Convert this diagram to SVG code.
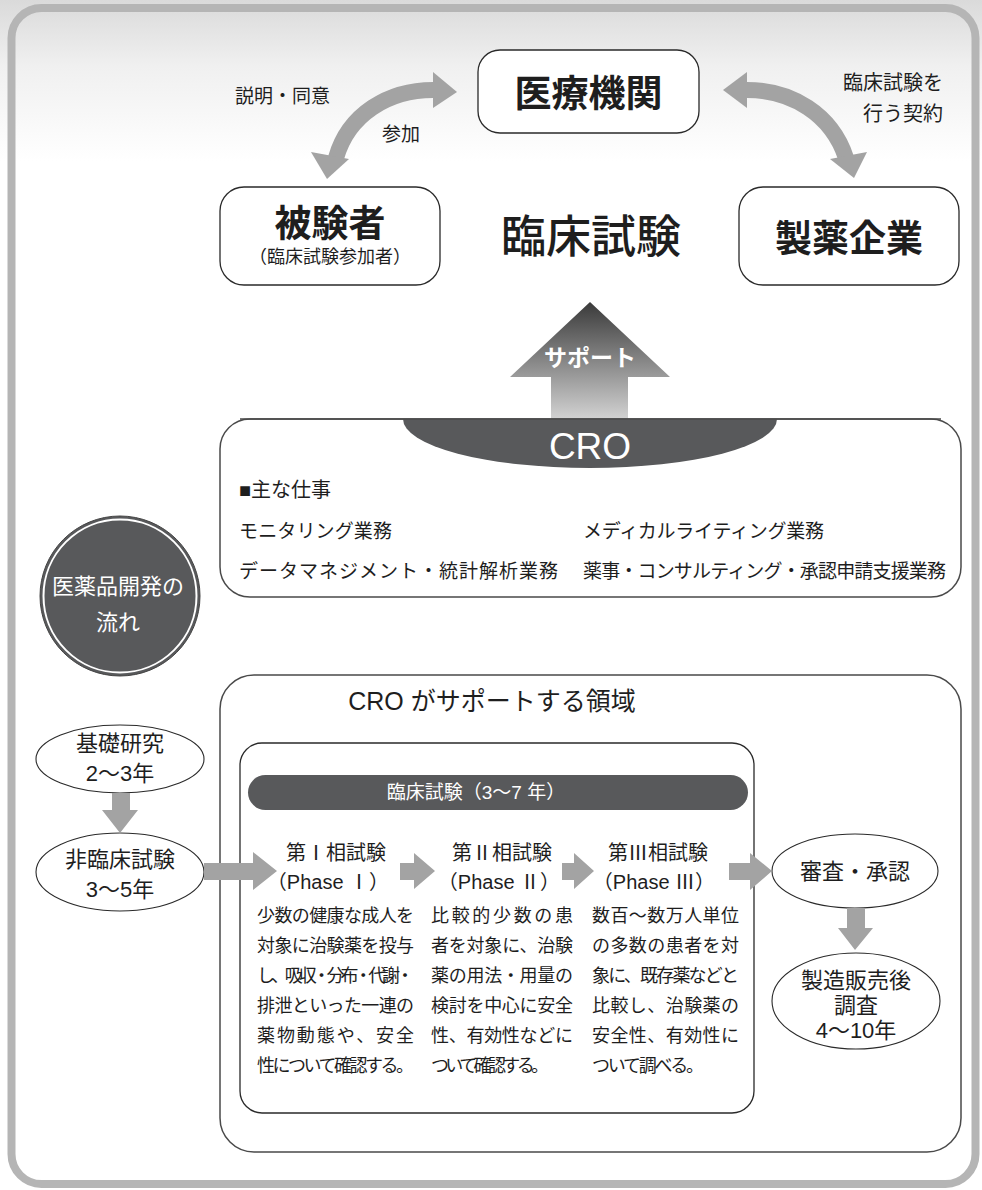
<svg xmlns="http://www.w3.org/2000/svg" width="982" height="1190" viewBox="0 0 982 1190">
<defs>
<linearGradient id="sky" x1="0" y1="0" x2="0" y2="190" gradientUnits="userSpaceOnUse">
<stop offset="0" stop-color="#dadada"/>
<stop offset="0.35" stop-color="#f0f0f0"/>
<stop offset="0.85" stop-color="#ffffff"/>
</linearGradient>
<linearGradient id="sup" x1="0" y1="302" x2="0" y2="419" gradientUnits="userSpaceOnUse">
<stop offset="0" stop-color="#3a3a3a"/>
<stop offset="1" stop-color="#d2d2d2"/>
</linearGradient>
<style>
text{font-family:"Liberation Sans","Noto Sans CJK JP",sans-serif;fill:#1e1e1e;dominant-baseline:central}
.c{text-anchor:middle}
.e{text-anchor:end}
.b{font-weight:bold}
.w{fill:#ffffff}
.node{fill:#ffffff;stroke:#2a2a2a;stroke-width:1.3}
.box{fill:#ffffff;stroke:#4a4a4a;stroke-width:1.5}
.ell{fill:#ffffff;stroke:#2a2a2a;stroke-width:1.1}
.arr{fill:#a3a3a3}
.curve{fill:none;stroke:#a3a3a3;stroke-width:16}
.dark{fill:#58595b}
.t18{font-size:18px}
.t19{font-size:19px}
.t20{font-size:20px}
.t22{font-size:22px}
</style>
</defs>

<rect x="0" y="0" width="982" height="1190" fill="#ffffff"/>
<rect x="0" y="0" width="982" height="190" fill="url(#sky)"/>
<rect id="frame" x="11.5" y="8" width="964" height="1176" rx="30" fill="none" stroke="#b5b5b5" stroke-width="8"/>

<g id="labels">
<text class="t19" x="235" y="96">説明・同意</text>
<text class="t19" x="382" y="134">参加</text>
<text class="t20 e" x="943" y="83">臨床試験を</text>
<text class="t20 e" x="943" y="114">行う契約</text>
</g>

<g id="iryo">
<rect class="node" x="478" y="50" width="221" height="83" rx="22"/>
<text class="c b" x="588.5" y="94" font-size="37">医療機関</text>
</g>

<g id="hikensha">
<rect class="node" x="220" y="187" width="220" height="98" rx="24"/>
<text class="c b" x="330" y="224" font-size="37">被験者</text>
<text class="c t18" x="330" y="257">（臨床試験参加者）</text>
</g>

<g id="rinsho">
<text class="c" x="591" y="237" font-size="45" font-weight="500">臨床試験</text>
</g>

<g id="seiyaku">
<rect class="node" x="739" y="187" width="220" height="98" rx="24"/>
<text class="c b" x="849" y="239" font-size="37">製薬企業</text>
</g>

<g id="support">
<polygon fill="url(#sup)" points="590,302 670,377 628,377 628,419 551,419 551,377 510,377"/>
<text class="c b w" x="590" y="358" font-size="23">サポート</text>
</g>

<g id="cro">
<rect class="box" x="220" y="419" width="741" height="178" rx="30"/>
<path class="dark" d="M403,419 A187,49 0 0 0 777,419 Z"/>
<line x1="240" y1="419" x2="941" y2="419" stroke="#4a4a4a" stroke-width="1.5"/>
<text class="c w" x="590" y="446" font-size="37">CRO</text>
<text class="t20" x="239" y="490">■主な仕事</text>
<text class="t19" x="239" y="531" textLength="153">モニタリング業務</text>
<text class="t19" x="583" y="531" textLength="241">メディカルライティング業務</text>
<text class="t19" x="239" y="571" textLength="319">データマネジメント・統計解析業務</text>
<text class="t19" x="583" y="571" textLength="363">薬事・コンサルティング・承認申請支援業務</text>
</g>

<g id="flow-title">
<circle cx="120" cy="596" r="80" fill="#58595b" stroke="#444" stroke-width="1"/>
<circle cx="120" cy="596" r="76.5" fill="none" stroke="#ffffff" stroke-width="2"/>
<text class="c w t22" x="118" y="586">医薬品開発の</text>
<text class="c w t22" x="118" y="622">流れ</text>
</g>

<g id="cro-area">
<rect class="box" x="220" y="675" width="741" height="477" rx="34"/>
<text class="c" x="492" y="701" font-size="25">CRO がサポートする領域</text>
</g>

<g id="clinical">
<rect class="node" x="240" y="743" width="514" height="370" rx="22"/>
<rect class="dark" x="248" y="775" width="500" height="35" rx="17.5"/>
<text class="c w t19" x="476" y="792">臨床試験（3～7 年）</text>
</g>

<g id="phase1">
<text class="c t20" x="336" y="853">第Ⅰ相試験</text>
<text class="c t20" x="328" y="882">（Phase Ⅰ）</text>
<text class="t18" x="257" y="916" textLength="157">少数の健康な成人を</text>
<text class="t18" x="257" y="946" textLength="157">対象に治験薬を投与</text>
<text class="t18" x="257" y="976" textLength="157">し、吸収・分布・代謝・</text>
<text class="t18" x="257" y="1006" textLength="157">排泄といった一連の</text>
<text class="t18" x="257" y="1036" textLength="157">薬物動態や、安全</text>
<text class="t18" x="257" y="1066" textLength="157">性について確認する。</text>
</g>

<g id="phase2">
<text class="c t20" x="502" y="853">第Ⅱ相試験</text>
<text class="c t20" x="499" y="882">（Phase Ⅱ）</text>
<text class="t18" x="431" y="916" textLength="142">比較的少数の患</text>
<text class="t18" x="431" y="946" textLength="142">者を対象に、治験</text>
<text class="t18" x="431" y="976" textLength="142">薬の用法・用量の</text>
<text class="t18" x="431" y="1006" textLength="142">検討を中心に安全</text>
<text class="t18" x="431" y="1036" textLength="142">性、有効性などに</text>
<text class="t18" x="431" y="1066" textLength="118">ついて確認する。</text>
</g>

<g id="phase3">
<text class="c t20" x="658" y="853">第Ⅲ相試験</text>
<text class="c t20" x="654" y="882">（Phase Ⅲ）</text>
<text class="t18" x="592" y="916" textLength="147">数百～数万人単位</text>
<text class="t18" x="592" y="946" textLength="147">の多数の患者を対</text>
<text class="t18" x="592" y="976" textLength="147">象に、既存薬などと</text>
<text class="t18" x="592" y="1006" textLength="147">比較し、治験薬の</text>
<text class="t18" x="592" y="1036" textLength="147">安全性、有効性に</text>
<text class="t18" x="592" y="1066" textLength="112">ついて調べる。</text>
</g>

<g id="kiso">
<ellipse class="ell" cx="120" cy="759" rx="84" ry="34"/>
<text class="c t22" x="120" y="743">基礎研究</text>
<text class="c t22" x="120" y="773">2～3年</text>
</g>

<g id="hirinsho">
<ellipse class="ell" cx="120" cy="872" rx="84" ry="39"/>
<text class="c t22" x="120" y="859">非臨床試験</text>
<text class="c t22" x="120" y="889">3～5年</text>
</g>

<g id="shinsa">
<ellipse class="ell" cx="855" cy="871" rx="83" ry="37"/>
<text class="c t22" x="855" y="871">審査・承認</text>
</g>

<g id="seizo">
<ellipse class="ell" cx="856" cy="1001" rx="84" ry="48"/>
<text class="c t22" x="856" y="980">製造販売後</text>
<text class="c t22" x="856" y="1005">調査</text>
<text class="c t22" x="856" y="1030">4～10年</text>
</g>

<g id="connectors">
<path class="curve" d="M436,90 C388,89 348,115 336,158"/>
<polygon class="arr" points="457,92 433,72 433,108"/>
<polygon class="arr" points="327,179 311,152 349,159"/>
<path class="curve" d="M744,90 C792,89 832,115 846,158"/>
<polygon class="arr" points="723,90 747,72 747,108"/>
<polygon class="arr" points="854,178 830,159 867,152"/>
<polygon class="arr" points="112,793 130,793 130,810 138,810 120,833 102,810 112,810"/>
<polygon class="arr" points="204,863 253,863 253,852 277,871 253,890 253,880 204,880"/>
<polygon class="arr" points="400,863 414,863 414,853 435,871 414,889 414,880 400,880"/>
<polygon class="arr" points="562,863 574,863 574,853 594,871 574,889 574,880 562,880"/>
<polygon class="arr" points="729,863 750,863 750,853 772,871 750,890 750,880 729,880"/>
<polygon class="arr" points="847,908 865,908 865,928 873,928 855,950 838,928 847,928"/>
</g>
</svg>
